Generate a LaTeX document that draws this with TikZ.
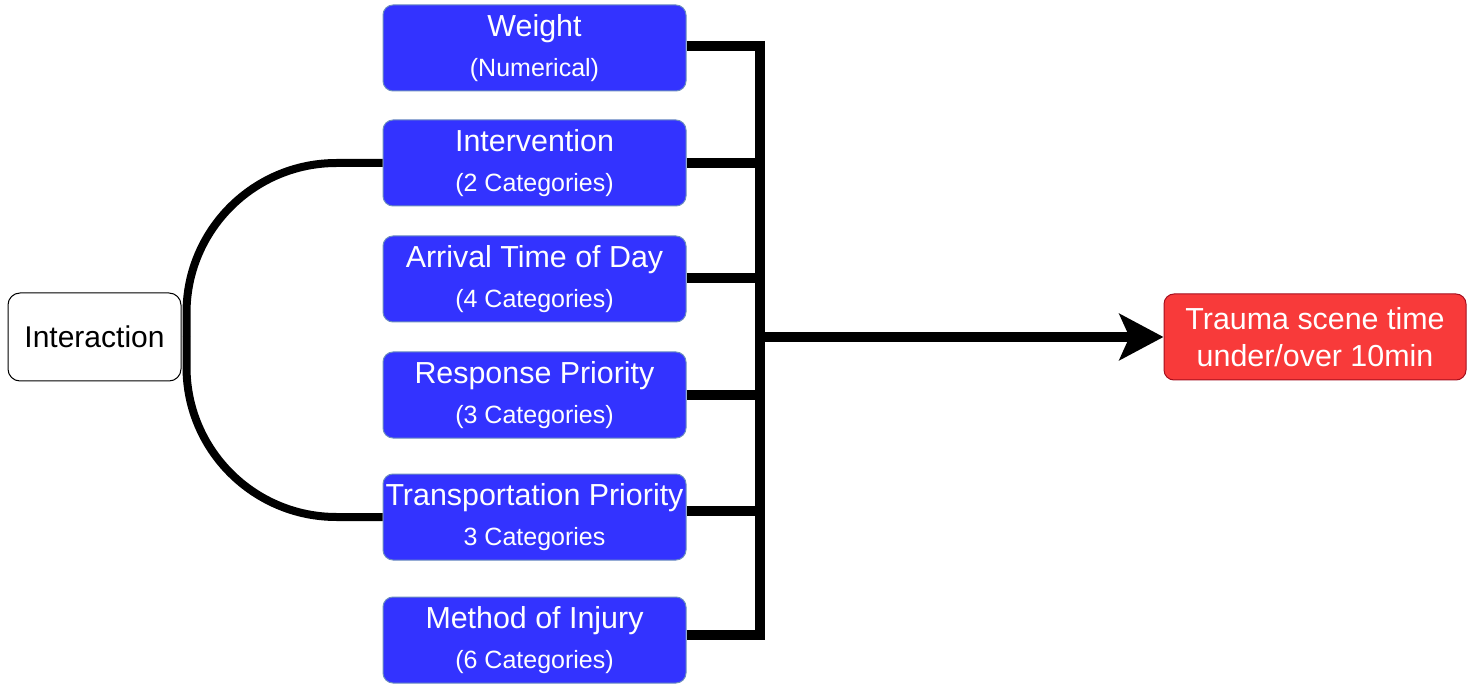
\documentclass[tikz,border=0pt]{standalone}
\usepackage{fontspec}
\setmainfont{Liberation Sans}
\usetikzlibrary{arrows.meta}
\definecolor{boxblue}{HTML}{3333FF}
\definecolor{boxblueline}{HTML}{6C8EBF}
\definecolor{boxred}{HTML}{F83A3A}
\definecolor{boxredline}{HTML}{A50F1E}
\newcommand\sublabel[1]{{\fontsize{12.5}{20}\selectfont #1}}
\begin{document}
\begin{tikzpicture}[x=0.5pt,y=-0.5pt,
  varbox/.style={draw=boxblueline, line width=0.5pt, fill=boxblue, rounded corners=5pt,
    minimum width=151.5pt, minimum height=43pt, inner sep=0pt, align=center,
    text=white, font=\fontsize{15.2}{20}\selectfont},
  intbox/.style={draw=black, line width=0.5pt, fill=white, rounded corners=6pt,
    minimum width=86.5pt, minimum height=44pt, inner sep=0pt, align=center,
    font=\fontsize{15}{20}\selectfont},
  outbox/.style={draw=boxredline, line width=0.5pt, fill=boxred, rounded corners=5pt,
    minimum width=151pt, minimum height=43pt, inner sep=0pt, align=center,
    text=white, font=\fontsize{15.2}{18.5}\selectfont},
  wire/.style={line width=5pt},
  loopwire/.style={line width=4pt, rounded corners=75pt}
]
\useasboundingbox (0,0) rectangle (1468,684);

\node[varbox] (w)  at (534.5,48)  {Weight\\\sublabel{(Numerical)}};
\node[varbox] (iv) at (534.5,163) {Intervention\\\sublabel{(2 Categories)}};
\node[varbox] (at) at (534.5,279) {Arrival Time of Day\\\sublabel{(4 Categories)}};
\node[varbox] (rp) at (534.5,395) {Response Priority\\\sublabel{(3 Categories)}};
\node[varbox] (tp) at (534.5,517) {Transportation Priority\\\sublabel{3 Categories}};
\node[varbox] (mi) at (534.5,640) {Method of Injury\\\sublabel{(6 Categories)}};

\node[intbox] (int) at (94.5,337) {Interaction};
\node[outbox] (out) at (1315,337) {Trauma scene time\\under/over 10min};

\coordinate (bt) at (760,41);
\coordinate (bb) at (760,640);
\coordinate (bm) at (760,337);
\coordinate (lp) at ([xshift=2.5pt]int.east);

\draw[wire] (bt) -- (bb);
\draw[wire] ([yshift=1pt]w.east) -- ([yshift=1pt]w.east -| bt);
\draw[wire] (iv.east) -- (iv.east -| bt);
\draw[wire] ([yshift=0.5pt]at.east) -- ([yshift=0.5pt]at.east -| bt);
\draw[wire] (rp.east) -- (rp.east -| bt);
\draw[wire] ([yshift=3pt]tp.east) -- ([yshift=3pt]tp.east -| bt);
\draw[wire] ([yshift=2.5pt]mi.east) -- ([yshift=2.5pt]mi.east -| bt);

\draw[wire, -{Stealth[length=22pt,width=23pt,inset=5pt]}] (bm) -- (out.west);

\draw[loopwire] (iv.west) -| (lp);
\draw[loopwire] (lp) |- (tp.west);
\end{tikzpicture}
\end{document}
